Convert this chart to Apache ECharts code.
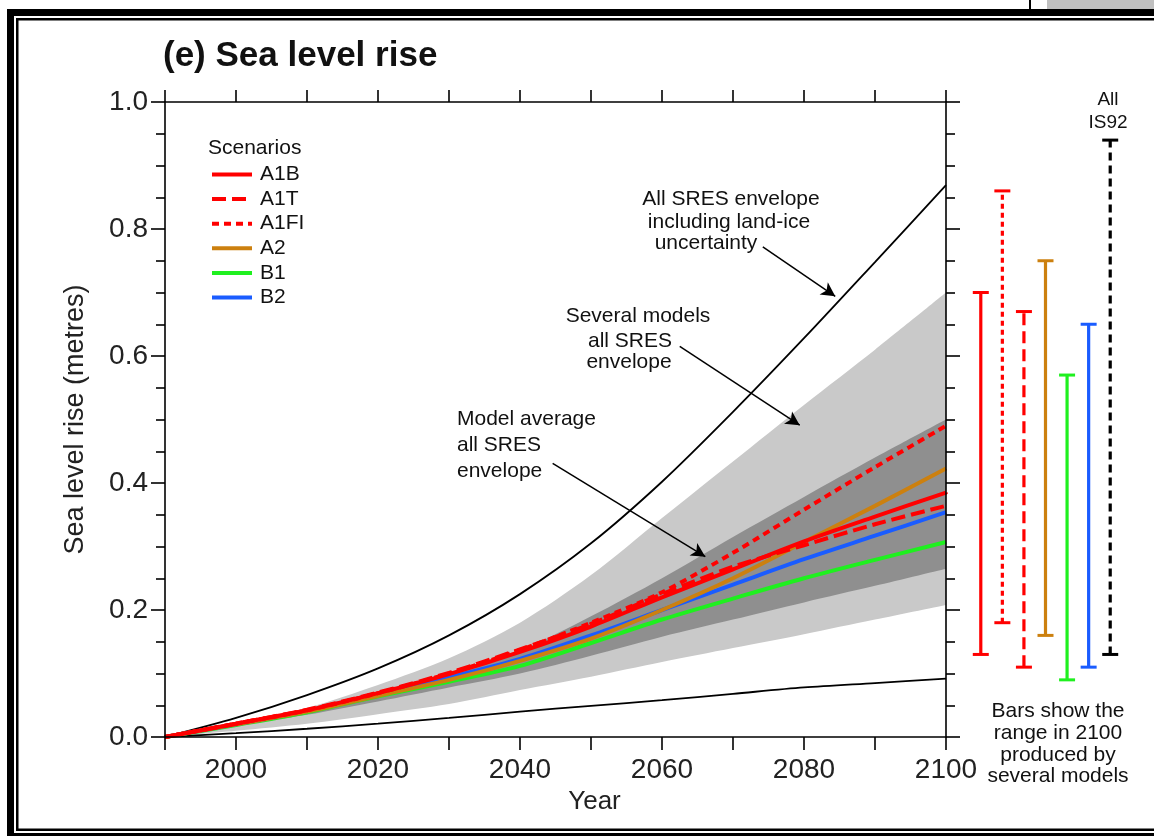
<!DOCTYPE html>
<html>
<head>
<meta charset="utf-8">
<script src="https://cdn.jsdelivr.net/npm/echarts@6/dist/echarts.min.js"></script>
<style>html,body{margin:0;padding:0;background:#fff}#c{width:1154px;height:836px}</style>
</head>
<body>
<div id="c"></div>
<script>
// ---- data ----
const years     = [1990, 2000, 2010, 2020, 2030, 2040, 2050, 2060, 2070, 2080, 2090, 2100];
const envUpper  = [0, 0.030, 0.066, 0.108, 0.160, 0.225, 0.305, 0.402, 0.512, 0.628, 0.748, 0.869];
const envLower  = [0, 0.006, 0.013, 0.021, 0.030, 0.040, 0.049, 0.058, 0.068, 0.078, 0.085, 0.092];
const lightUpper= [0, 0.022, 0.046, 0.082, 0.124, 0.180, 0.255, 0.345, 0.434, 0.523, 0.610, 0.700];
const lightLower= [0, 0.010, 0.021, 0.036, 0.052, 0.074, 0.095, 0.118, 0.140, 0.162, 0.185, 0.208];
const darkUpper = [0, 0.021, 0.042, 0.068, 0.100, 0.136, 0.190, 0.250, 0.315, 0.378, 0.440, 0.500];
const darkLower = [0, 0.018, 0.035, 0.056, 0.078, 0.100, 0.128, 0.158, 0.185, 0.212, 0.238, 0.265];
const a1b  = [0, 0.021, 0.042, 0.069, 0.099, 0.134, 0.174, 0.220, 0.264, 0.308, 0.347, 0.385];
const a1t  = [0, 0.021, 0.043, 0.070, 0.101, 0.138, 0.178, 0.225, 0.268, 0.302, 0.335, 0.364];
const a1fi = [0, 0.021, 0.042, 0.069, 0.100, 0.137, 0.180, 0.228, 0.290, 0.358, 0.425, 0.490];
const a2   = [0, 0.020, 0.040, 0.065, 0.090, 0.120, 0.155, 0.200, 0.250, 0.307, 0.364, 0.423];
const b1   = [0, 0.019, 0.039, 0.064, 0.087, 0.112, 0.148, 0.185, 0.218, 0.250, 0.279, 0.307];
const b2   = [0, 0.020, 0.041, 0.068, 0.094, 0.123, 0.160, 0.200, 0.240, 0.280, 0.317, 0.354];
// ranges in 2100 (bars on the right)
const rangeCats = ['A1B', 'A1FI', 'A1T', 'A2', 'B1', 'B2', 'IS92'];
const rangeLow  = [0.13, 0.18, 0.11, 0.16, 0.09, 0.11, 0.13];
const rangeHigh = [0.70, 0.86, 0.67, 0.75, 0.57, 0.65, 0.94];

// ---- styles ----
const C = { A1B:'#ff0000', A1T:'#ff0000', A1FI:'#ff0000', A2:'#cc800f', B1:'#1ff01f', B2:'#1a5cff', IS92:'#000000' };
const rangeDash = { A1B:null, A1FI:[5,4], A1T:[12,6], A2:null, B1:null, B2:null, IS92:[8,5] };
const FONT = 'Liberation Sans, Arial, Helvetica, sans-serif';
const LIGHT = '#c9c9c9', DARK = '#8f8f8f';

const pairs = arr => years.map((y, i) => [y, arr[i]]);

// filled layer from the axis floor up to a curve (layers painted in order build the bands)
function fillTo(arr, color) {
  return { type:'line', data: pairs(arr), symbol:'none', smooth:0.3, silent:true, z:1,
    lineStyle:{ width:0, color }, areaStyle:{ color, opacity:1, origin:'start' } };
}
function scen(name, arr, dash) {
  return { name, type:'line', data: pairs(arr), symbol:'none', smooth:0.3, z:4,
    itemStyle:{ color:C[name] },
    lineStyle:{ color:C[name], width:4, type: dash || 'solid' } };
}

const chart = echarts.init(document.getElementById('c'), null, { renderer:'canvas' });

const arrows = [
  [{ coord:[2074.2, 0.772] }, { coord:[2084.4, 0.694] }],
  [{ coord:[2062.5, 0.615] }, { coord:[2079.4, 0.491] }],
  [{ coord:[2044.6, 0.431] }, { coord:[2066.1, 0.284] }]
];

const axisCommon = { z:6 };
const option = {
  animation:false,
  textStyle:{ fontFamily:FONT },
  grid:[
    { left:165, right:208, top:102, bottom:99, containLabel:false },
    { left:970, width:151, top:102, bottom:99 }
  ],
  xAxis:[
    Object.assign({ type:'value', gridIndex:0, min:1990, max:2100, interval:10, position:'bottom',
      axisLine:{ onZero:false, lineStyle:{ color:'#000', width:1.6 } },
      axisTick:{ show:true, length:13, lineStyle:{ color:'#000', width:1.6 } },
      splitLine:{ show:false },
      axisLabel:{ fontSize:28, color:'#222', margin:19, fontFamily:FONT,
        formatter: v => ((v - 2000) % 20 === 0 ? String(v) : '') },
      name:'Year', nameLocation:'middle', nameGap:47,
      nameTextStyle:{ fontSize:26, color:'#222', fontFamily:FONT, padding:[0,0,0,78] } }, axisCommon),
    Object.assign({ type:'value', gridIndex:0, min:1990, max:2100, interval:10, position:'top',
      axisLine:{ onZero:false, lineStyle:{ color:'#000', width:1.6 } },
      axisTick:{ show:true, length:12, lineStyle:{ color:'#000', width:1.6 } },
      axisLabel:{ show:false }, splitLine:{ show:false } }, axisCommon),
    { type:'category', gridIndex:1, data:rangeCats, show:false }
  ],
  yAxis:[
    Object.assign({ type:'value', gridIndex:0, min:0, max:1, interval:0.2, position:'left',
      axisLine:{ show:true, onZero:false, lineStyle:{ color:'#000', width:1.6 } },
      axisTick:{ show:true, length:14, lineStyle:{ color:'#000', width:1.6 } },
      minorTick:{ show:true, splitNumber:4, length:9, lineStyle:{ color:'#000', width:1.6 } },
      splitLine:{ show:false },
      axisLabel:{ fontSize:28, color:'#222', margin:17, fontFamily:FONT, formatter: v => v.toFixed(1) },
      name:'Sea level rise (metres)', nameLocation:'middle', nameGap:76,
      nameTextStyle:{ fontSize:27, color:'#222', fontFamily:FONT } }, axisCommon),
    Object.assign({ type:'value', gridIndex:0, min:0, max:1, interval:0.2, position:'right',
      axisLine:{ show:true, onZero:false, lineStyle:{ color:'#000', width:1.6 } },
      axisTick:{ show:true, length:14, lineStyle:{ color:'#000', width:1.6 } },
      minorTick:{ show:true, splitNumber:4, length:9, lineStyle:{ color:'#000', width:1.6 } },
      splitLine:{ show:false }, axisLabel:{ show:false } }, axisCommon),
    { type:'value', gridIndex:1, min:0, max:1, show:false }
  ],
  legend:{
    data:['A1B','A1T','A1FI','A2','B1','B2'],
    orient:'vertical', left:210, top:164, padding:0, itemWidth:40, itemHeight:14, itemGap:3.6,
    itemStyle:{ opacity:0 },
    lineStyle:{ width:4 },
    textStyle:{ fontSize:21, color:'#111', fontFamily:FONT, padding:[0,0,0,3] },
    selectedMode:false
  },
  series:[
    fillTo(lightUpper, LIGHT),
    fillTo(darkUpper, DARK),
    fillTo(darkLower, LIGHT),
    fillTo(lightLower, '#ffffff'),
    { type:'line', data:pairs(envUpper), symbol:'none', smooth:0.3, z:3, silent:true,
      lineStyle:{ color:'#000', width:1.8 },
      markLine:{ silent:true, symbol:['none','arrow'], symbolSize:[11,14],
        lineStyle:{ color:'#000', width:1.5, type:'solid' }, label:{ show:false },
        data: arrows } },
    { type:'line', data:pairs(envLower), symbol:'none', smooth:0.3, z:3, silent:true,
      lineStyle:{ color:'#000', width:1.8 } },
    scen('B1', b1), scen('B2', b2), scen('A2', a2),
    scen('A1T', a1t, [14, 6]), scen('A1B', a1b), scen('A1FI', a1fi, [7, 5]),
    { type:'custom', xAxisIndex:2, yAxisIndex:2, silent:true, z:5,
      data: rangeCats.map((c, i) => [i, rangeLow[i], rangeHigh[i]]),
      renderItem: function (params, api) {
        const i = api.value(0);
        const lo = api.coord([i, api.value(1)]);
        const hi = api.coord([i, api.value(2)]);
        const name = rangeCats[i];
        const color = C[name];
        const dash = rangeDash[name];
        const cap = 8;
        return { type:'group', children:[
          { type:'line', shape:{ x1:lo[0], y1:lo[1], x2:hi[0], y2:hi[1] },
            style:{ stroke:color, lineWidth:3.2, lineDash:dash } },
          { type:'line', shape:{ x1:hi[0]-cap, y1:hi[1], x2:hi[0]+cap, y2:hi[1] },
            style:{ stroke:color, lineWidth:3 } },
          { type:'line', shape:{ x1:lo[0]-cap, y1:lo[1], x2:lo[0]+cap, y2:lo[1] },
            style:{ stroke:color, lineWidth:3 } }
        ]};
      } }
  ],
  graphic:[
    // frame
    { type:'rect', shape:{ x:1047, y:0, width:107, height:9 }, style:{ fill:'#c0c0c0' }, silent:true },
    { type:'rect', shape:{ x:1029, y:0, width:2, height:9 }, style:{ fill:'#000' }, silent:true },
    { type:'rect', shape:{ x:7, y:9, width:1147, height:7 }, style:{ fill:'#000' }, silent:true },
    { type:'rect', shape:{ x:7, y:9, width:7, height:827 }, style:{ fill:'#000' }, silent:true },
    { type:'rect', shape:{ x:7, y:833, width:1147, height:3 }, style:{ fill:'#000' }, silent:true },
    { type:'rect', shape:{ x:16, y:18, width:1138, height:2.5 }, style:{ fill:'#000' }, silent:true },
    { type:'rect', shape:{ x:16, y:18, width:2.5, height:813 }, style:{ fill:'#000' }, silent:true },
    { type:'rect', shape:{ x:16, y:828.5, width:1138, height:2.5 }, style:{ fill:'#000' }, silent:true },
    // title
    { type:'text', x:163, y:56, style:{ text:'(e) Sea level rise', font:'bold 35px ' + FONT, fill:'#111', verticalAlign:'middle' } },
    { type:'text', x:208, y:148, style:{ text:'Scenarios', font:'21px ' + FONT, fill:'#111', verticalAlign:'middle' } },
    // annotations
    { type:'text', x:731, y:199, style:{ text:'All SRES envelope', font:'21px ' + FONT, fill:'#111', align:'center', verticalAlign:'middle' } },
    { type:'text', x:729, y:222, style:{ text:'including land-ice', font:'21px ' + FONT, fill:'#111', align:'center', verticalAlign:'middle' } },
    { type:'text', x:706, y:243, style:{ text:'uncertainty', font:'21px ' + FONT, fill:'#111', align:'center', verticalAlign:'middle' } },
    { type:'text', x:638, y:316, style:{ text:'Several models', font:'21px ' + FONT, fill:'#111', align:'center', verticalAlign:'middle' } },
    { type:'text', x:630, y:341, style:{ text:'all SRES', font:'21px ' + FONT, fill:'#111', align:'center', verticalAlign:'middle' } },
    { type:'text', x:629, y:362, style:{ text:'envelope', font:'21px ' + FONT, fill:'#111', align:'center', verticalAlign:'middle' } },
    { type:'text', x:457, y:419, style:{ text:'Model average', font:'21px ' + FONT, fill:'#111', verticalAlign:'middle' } },
    { type:'text', x:457, y:445, style:{ text:'all SRES', font:'21px ' + FONT, fill:'#111', verticalAlign:'middle' } },
    { type:'text', x:457, y:471, style:{ text:'envelope', font:'21px ' + FONT, fill:'#111', verticalAlign:'middle' } },
    { type:'text', x:1108, y:100, style:{ text:'All', font:'19px ' + FONT, fill:'#111', align:'center', verticalAlign:'middle' } },
    { type:'text', x:1108, y:123, style:{ text:'IS92', font:'19px ' + FONT, fill:'#111', align:'center', verticalAlign:'middle' } },
    { type:'text', x:1058, y:711, style:{ text:'Bars show the', font:'21px ' + FONT, fill:'#111', align:'center', verticalAlign:'middle' } },
    { type:'text', x:1058, y:733, style:{ text:'range in 2100', font:'21px ' + FONT, fill:'#111', align:'center', verticalAlign:'middle' } },
    { type:'text', x:1058, y:755, style:{ text:'produced by', font:'21px ' + FONT, fill:'#111', align:'center', verticalAlign:'middle' } },
    { type:'text', x:1058, y:776, style:{ text:'several models', font:'21px ' + FONT, fill:'#111', align:'center', verticalAlign:'middle' } }
  ]
};
chart.setOption(option);
</script>
</body>
</html>
